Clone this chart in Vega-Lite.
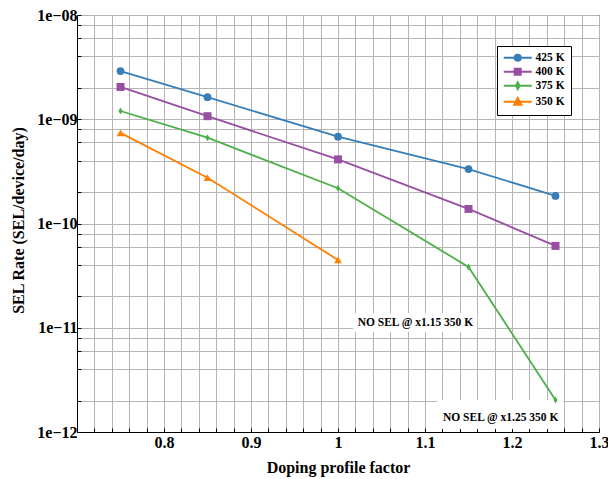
{
  "$schema": "https://vega.github.io/schema/vega-lite/v6.json",
  "autosize": {"type": "none"},
  "width": 522,
  "height": 417,
  "padding": {"left": 77, "top": 15, "right": 9, "bottom": 47},
  "background": "white",
  "config": {
    "view": {"stroke": "black", "strokeWidth": 1},
    "font": "Liberation Serif",
    "axis": {
      "labelFont": "Liberation Serif", "labelFontWeight": "bold", "labelFontSize": 16, "labelColor": "black",
      "titleFont": "Liberation Serif", "titleFontWeight": "bold", "titleFontSize": 16, "titleColor": "black",
      "domainColor": "black", "tickColor": "black", "tickSize": -4, "tickWidth": 1,
      "gridColor": "#b4b4b4", "gridWidth": 1, "gridOpacity": 1,
      "labelOverlap": false, "labelFlush": false, "tickCount": 200
    },
    "legend": {
      "labelFont": "Liberation Serif", "labelFontWeight": "bold", "labelFontSize": 11.5, "labelColor": "black",
      "strokeColor": "black", "fillColor": "white", "padding": 6, "cornerRadius": 0,
      "symbolSize": 64, "symbolStrokeWidth": 2, "symbolOpacity": 1, "labelOffset": 21, "rowPadding": -1
    }
  },
  "datasets": {
    "sel": [
      {"series": "425 K", "factor": 0.75, "rate": 2.9e-9},
      {"series": "425 K", "factor": 0.85, "rate": 1.63e-9},
      {"series": "425 K", "factor": 1.0, "rate": 6.8e-10},
      {"series": "425 K", "factor": 1.15, "rate": 3.33e-10},
      {"series": "425 K", "factor": 1.25, "rate": 1.84e-10},
      {"series": "400 K", "factor": 0.75, "rate": 2.04e-9},
      {"series": "400 K", "factor": 0.85, "rate": 1.07e-9},
      {"series": "400 K", "factor": 1.0, "rate": 4.12e-10},
      {"series": "400 K", "factor": 1.15, "rate": 1.38e-10},
      {"series": "400 K", "factor": 1.25, "rate": 6.1e-11},
      {"series": "375 K", "factor": 0.75, "rate": 1.2e-9},
      {"series": "375 K", "factor": 0.85, "rate": 6.65e-10},
      {"series": "375 K", "factor": 1.0, "rate": 2.18e-10},
      {"series": "375 K", "factor": 1.15, "rate": 3.83e-11},
      {"series": "375 K", "factor": 1.25, "rate": 2.03e-12},
      {"series": "350 K", "factor": 0.75, "rate": 7.4e-10},
      {"series": "350 K", "factor": 0.85, "rate": 2.75e-10},
      {"series": "350 K", "factor": 1.0, "rate": 4.47e-11}
    ],
    "anno": [
      {"label": "NO SEL @ x1.15 350 K", "xt": 1.089, "yt": 1.11e-11, "x1": 1.0175, "x2": 1.16, "y1": 9.1e-12, "y2": 1.38e-11},
      {"label": "NO SEL @ x1.25 350 K", "xt": 1.187, "yt": 1.36e-12, "x1": 1.114, "x2": 1.259, "y1": 1.07e-12, "y2": 2.03e-12}
    ]
  },
  "layer": [
    {
      "data": {"name": "anno"},
      "mark": {"type": "rect", "fill": "white", "stroke": null},
      "encoding": {
        "x": {"field": "x1", "type": "quantitative", "scale": {"domain": [0.7, 1.3], "nice": false, "zero": false},
          "axis": {
            "title": "Doping profile factor",
            "values": [0.7, 0.72, 0.74, 0.76, 0.78, 0.8, 0.82, 0.84, 0.86, 0.88, 0.9, 0.92, 0.94, 0.96, 0.98, 1.0, 1.02, 1.04, 1.06, 1.08, 1.1, 1.12, 1.14, 1.16, 1.18, 1.2, 1.22, 1.24, 1.26, 1.28, 1.3],
            "tickCount": 200,
            "labelExpr": "(abs(datum.value*10 - round(datum.value*10)) < 0.001 && datum.value > 0.75) ? format(datum.value, '') : ''",
            "labelPadding": 6, "titleX": 261, "titleY": 35, "titleAlign": "center", "titleBaseline": "middle"
          }},
        "x2": {"field": "x2"},
        "y": {"field": "y1", "type": "quantitative", "scale": {"type": "log", "domain": [1e-12, 1e-8], "nice": false},
          "axis": {
            "title": "SEL Rate (SEL/device/day)",
            "values": [1e-12, 2e-12, 4e-12, 6e-12, 8e-12, 1e-11, 2e-11, 4e-11, 6e-11, 8e-11, 1e-10, 2e-10, 4e-10, 6e-10, 8e-10, 1e-9, 2e-9, 4e-9, 6e-9, 8e-9, 1e-8],
            "tickCount": 200,
            "labelExpr": "abs(log(datum.value)/LN10 - round(log(datum.value)/LN10)) < 0.01 ? '1e\u2212' + (round(-log(datum.value)/LN10) < 10 ? '0' : '') + round(-log(datum.value)/LN10) : ''",
            "labelPadding": 4, "titleX": -59, "titleY": 205, "titleAngle": -90, "titleAlign": "center", "titleBaseline": "middle"
          }},
        "y2": {"field": "y2"}
      }
    },
    {
      "data": {"name": "anno"},
      "mark": {"type": "text", "font": "Liberation Serif", "fontWeight": "bold", "fontSize": 11.5, "color": "black", "align": "center", "baseline": "middle"},
      "encoding": {
        "x": {"field": "xt", "type": "quantitative"},
        "y": {"field": "yt", "type": "quantitative"},
        "text": {"field": "label"}
      }
    },
    {
      "data": {"name": "sel"},
      "mark": {"type": "line", "strokeWidth": 1.8},
      "encoding": {
        "x": {"field": "factor", "type": "quantitative"},
        "y": {"field": "rate", "type": "quantitative"},
        "color": {"field": "series", "type": "nominal",
          "scale": {"domain": ["425 K", "400 K", "375 K", "350 K"], "range": ["#377eb8", "#984ea3", "#4daf4a", "#ff7f00"]},
          "legend": {
            "title": null, "orient": "none", "legendX": 420, "legendY": 31,
            "encode": {
              "symbols": {
                "update": {
                  "shape": {"signal": "datum.value == '425 K' ? 'M-1.25,0L5.75,0M3,0A0.75,0.75 0 1,1 1.5,0A0.75,0.75 0 1,1 3,0Z' : datum.value == '400 K' ? 'M-1.25,0L5.75,0M1.5,-0.75L3,-0.75L3,0.75L1.5,0.75Z' : datum.value == '375 K' ? 'M-1.25,0L5.75,0M2.25,-0.85L2.7,0L2.25,0.85L1.8,0Z' : 'M-1.25,0L5.75,0M2.25,-0.95L3.15,0.75L1.35,0.75Z'"},
                  "fill": {"scale": "color", "field": "value"},
                  "stroke": {"scale": "color", "field": "value"},
                  "strokeWidth": {"value": 2},
                  "size": {"value": 64},
                  "opacity": {"value": 1}
                }
              }
            }
          }}
      }
    },
    {
      "data": {"name": "sel"},
      "transform": [{"filter": "datum.series == '425 K'"}],
      "mark": {"type": "point", "filled": true, "opacity": 1, "size": 60, "shape": "circle", "color": "#377eb8"},
      "encoding": {
        "x": {"field": "factor", "type": "quantitative"},
        "y": {"field": "rate", "type": "quantitative"}
      }
    },
    {
      "data": {"name": "sel"},
      "transform": [{"filter": "datum.series == '400 K'"}],
      "mark": {"type": "point", "filled": true, "opacity": 1, "size": 64, "shape": "square", "color": "#984ea3"},
      "encoding": {
        "x": {"field": "factor", "type": "quantitative"},
        "y": {"field": "rate", "type": "quantitative"}
      }
    },
    {
      "data": {"name": "sel"},
      "transform": [{"filter": "datum.series == '375 K'"}],
      "mark": {"type": "point", "filled": true, "opacity": 1, "size": 50, "shape": "M0,-1L0.6,0L0,1L-0.6,0Z", "color": "#4daf4a"},
      "encoding": {
        "x": {"field": "factor", "type": "quantitative"},
        "y": {"field": "rate", "type": "quantitative"}
      }
    },
    {
      "data": {"name": "sel"},
      "transform": [{"filter": "datum.series == '350 K'"}],
      "mark": {"type": "point", "filled": true, "opacity": 1, "size": 60, "shape": "triangle-up", "color": "#ff7f00"},
      "encoding": {
        "x": {"field": "factor", "type": "quantitative"},
        "y": {"field": "rate", "type": "quantitative"}
      }
    }
  ]
}
